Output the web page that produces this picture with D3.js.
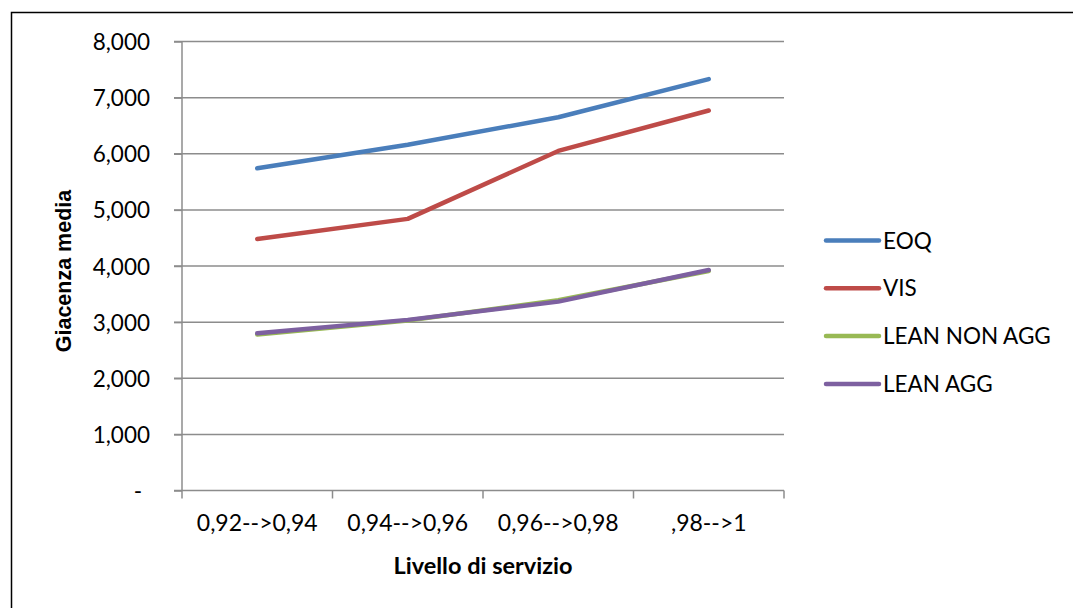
<!DOCTYPE html>
<html>
<head>
<meta charset="utf-8">
<script src="https://cdn.jsdelivr.net/npm/d3@7/dist/d3.min.js"></script>
<style>
  html, body { margin: 0; padding: 0; background: #fff; }
  svg { display: block; }
</style>
</head>
<body>
<svg id="chart" width="1073" height="608"></svg>
<script>
// Service-level buckets on the x axis
const categories = ["0,92-->0,94", "0,94-->0,96", "0,96-->0,98", ",98-->1"];

// Average stock per policy
const eoq = [5740, 6160, 6650, 7330];
const vis = [4480, 4840, 6050, 6770];
const leanNonAgg = [2780, 3030, 3390, 3910];
const leanAgg = [2800, 3040, 3365, 3930];

const yTicks = [0, 1000, 2000, 3000, 4000, 5000, 6000, 7000, 8000];

const seriesNames = ["EOQ", "VIS", "LEAN NON AGG", "LEAN AGG"];
const seriesValues = [eoq, vis, leanNonAgg, leanAgg];
const seriesColors = ["#4a7ebb", "#be4b48", "#98b954", "#7d60a0"];

const svg = d3.select("#chart");
const W = 1073, H = 608;
const plot = { left: 182, right: 784, top: 41.5, bottom: 490.5 };
const font = "Lato, 'Open Sans', sans-serif";

// outer frame (top and left edges visible)
svg.append("path")
  .attr("d", `M11.5,${H} V12.5 H${W}`)
  .attr("fill", "none").attr("stroke", "#000").attr("stroke-width", 1.5);

const x = d3.scaleBand().domain(categories).range([plot.left, plot.right]).padding(0);
const y = d3.scaleLinear().domain([0, 8000]).range([plot.bottom, plot.top]);

// horizontal gridlines
svg.append("g").selectAll("line").data(yTicks.filter(d => d > 0)).join("line")
  .attr("x1", plot.left - 8).attr("x2", plot.right)
  .attr("y1", d => y(d)).attr("y2", d => y(d))
  .attr("stroke", "#8c8c8c").attr("stroke-width", 1.5);

// y axis
const yAxis = d3.axisLeft(y).tickValues(yTicks).tickSize(8)
  .tickFormat(d => d === 0 ? "-" : d3.format(",")(d));
const gy = svg.append("g").attr("transform", `translate(${plot.left},0)`).call(yAxis);
gy.select(".domain").attr("stroke", "#8c8c8c").attr("stroke-width", 1.5)
  .attr("d", `M0,${plot.top}V${plot.bottom}`);
gy.selectAll(".tick line").attr("stroke", "#8c8c8c").attr("stroke-width", 1.5);
gy.selectAll(".tick text").attr("x", -32).attr("dy", "0.36em")
  .attr("font-family", font).attr("font-size", 22.5).attr("fill", "#000");
gy.selectAll(".tick text").filter(d => d === 0).attr("x", -40);

// x axis with ticks at category boundaries
const xAxis = d3.axisBottom(x).tickSize(0).tickPadding(24);
const gx = svg.append("g").attr("transform", `translate(0,${plot.bottom})`).call(xAxis);
gx.select(".domain").attr("stroke", "#8c8c8c").attr("stroke-width", 1.5)
  .attr("d", `M${plot.left - 8},0H${plot.right}`);
gx.selectAll(".tick text").attr("font-family", font).attr("font-size", 23).attr("fill", "#000")
  .attr("dy", "0.71em");
const bounds = categories.map(c => x(c)).concat([x(categories[categories.length - 1]) + x.bandwidth()]);
gx.selectAll(".boundary").data(bounds).join("line")
  .attr("x1", d => d).attr("x2", d => d).attr("y1", 0).attr("y2", 8)
  .attr("stroke", "#8c8c8c").attr("stroke-width", 1.5);

// axis titles
svg.append("text").attr("x", (plot.left + plot.right) / 2).attr("y", 574)
  .attr("text-anchor", "middle").attr("font-family", font).attr("font-weight", "bold")
  .attr("font-size", 23.5).text("Livello di servizio");
svg.append("text").attr("transform", `translate(71,${(plot.top + plot.bottom) / 2 + 5}) rotate(-90)`)
  .attr("text-anchor", "middle").attr("font-family", "'Liberation Sans', Arial, sans-serif")
  .attr("font-weight", "bold").attr("font-size", 21.5).text("Giacenza media");

// series lines
const line = d3.line()
  .x((d, i) => x(categories[i]) + x.bandwidth() / 2)
  .y(d => y(d));
svg.append("g").selectAll("path").data(seriesValues).join("path")
  .attr("d", d => line(d))
  .attr("fill", "none")
  .attr("stroke", (d, i) => seriesColors[i])
  .attr("stroke-width", 4.5)
  .attr("stroke-linecap", "round")
  .attr("stroke-linejoin", "round");

// legend
const lg = svg.append("g");
seriesNames.forEach((name, i) => {
  const ly = 240.5 + i * 47.8;
  lg.append("line").attr("x1", 826).attr("x2", 879).attr("y1", ly).attr("y2", ly)
    .attr("stroke", seriesColors[i]).attr("stroke-width", 4.5).attr("stroke-linecap", "round");
  lg.append("text").attr("x", 883).attr("y", ly).attr("dy", "0.36em")
    .attr("font-family", font).attr("font-size", 22.5).text(name);
});
</script>
</body>
</html>
